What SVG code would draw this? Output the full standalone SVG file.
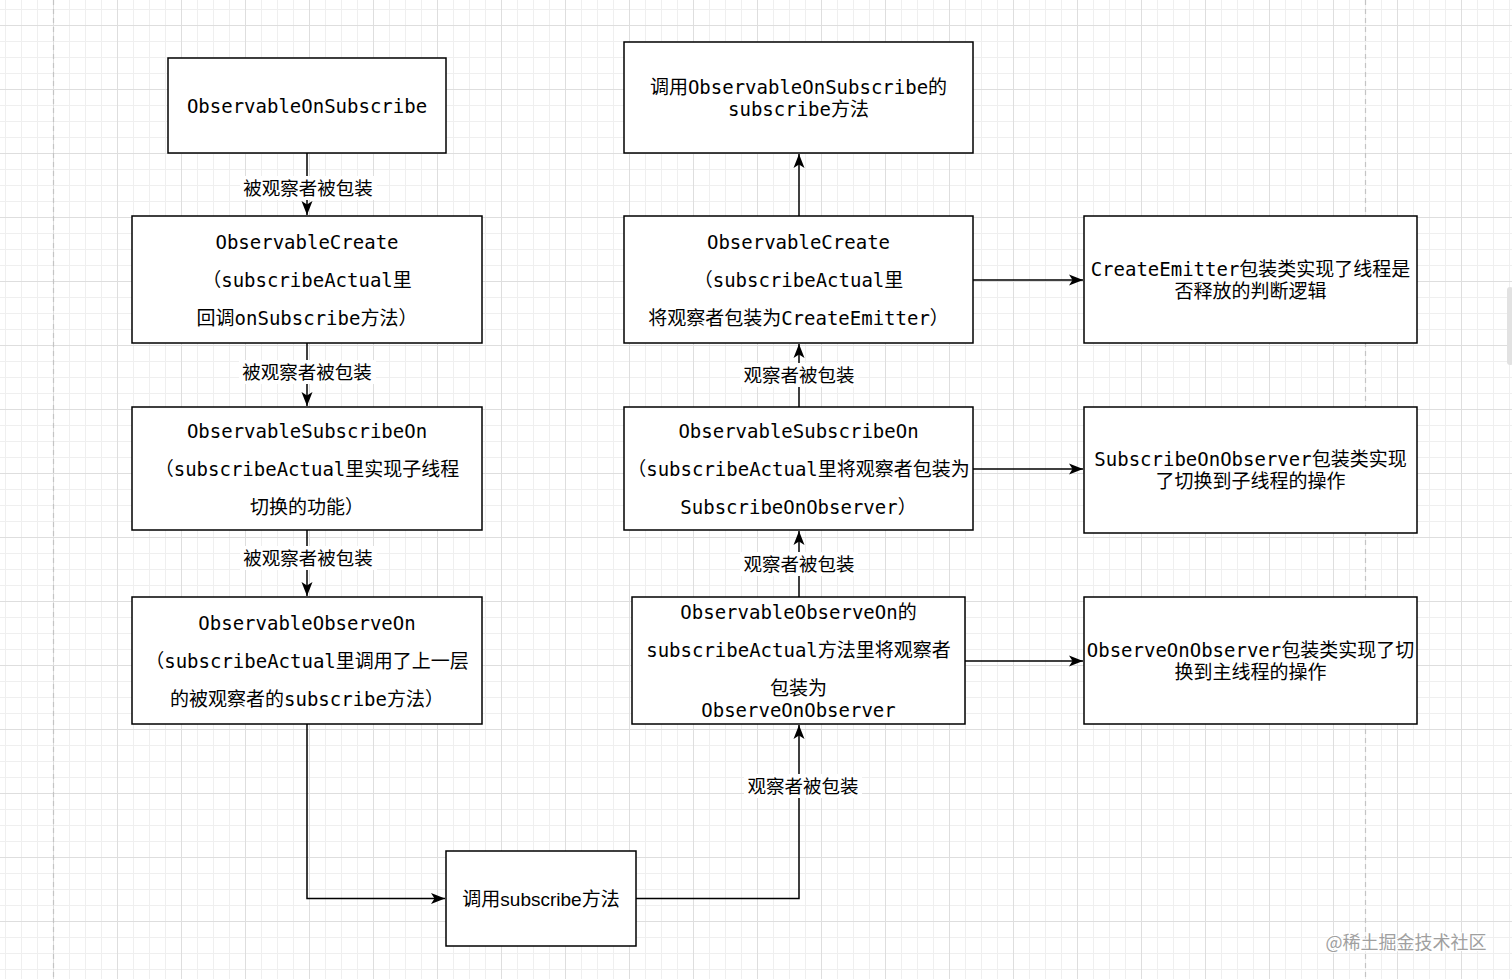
<svg xmlns="http://www.w3.org/2000/svg" width="1512" height="979" viewBox="0 0 1512 979">
<defs>
<pattern id="grid" patternUnits="userSpaceOnUse" x="53" y="25" width="64" height="64">
<rect width="64" height="64" fill="#ffffff"/>
<path d="M16.5 0V64M32.5 0V64M48.5 0V64M0 16.5H64M0 32.5H64M0 48.5H64" stroke="#efefef" stroke-width="1"/>
<path d="M0.5 0V64M0 0.5H64" stroke="#dedede" stroke-width="1"/>
</pattern>
<marker id="arr" markerUnits="userSpaceOnUse" markerWidth="16" markerHeight="16" viewBox="0 0 16 16" refX="15" refY="8" orient="auto">
<path d="M1,2.5 L15,8 L1,13.5 L4.5,8 z" fill="#000"/>
</marker>
</defs>
<style>
.box{fill:#fff;stroke:#000;stroke-width:1.5}
.mono{font-family:"DejaVu Sans Mono","Noto Sans CJK SC",monospace;font-size:19px;fill:#000;text-anchor:middle}
.sans{font-family:"Liberation Sans","Noto Sans CJK SC",sans-serif;font-size:19px;fill:#000;text-anchor:middle}
.lbl{font-family:"Noto Sans CJK SC",sans-serif;font-size:18.5px;fill:#000;text-anchor:middle}
.edge{fill:none;stroke:#000;stroke-width:1.5}
.lblbg{fill:#fff}
</style>
<rect width="1512" height="979" fill="url(#grid)"/>
<line x1="53.5" y1="0" x2="53.5" y2="979" stroke="#c4c4c4" stroke-width="1.2" stroke-dasharray="5,4"/>
<line x1="1365.5" y1="0" x2="1365.5" y2="979" stroke="#c4c4c4" stroke-width="1.2" stroke-dasharray="5,4"/>
<rect x="1507" y="287" width="6" height="78" rx="3" fill="#e2e2e2"/>

<g id="connectors">
<path class="edge" d="M307 153V215" marker-end="url(#arr)"/>
<path class="edge" d="M307 343V406" marker-end="url(#arr)"/>
<path class="edge" d="M307 530V596" marker-end="url(#arr)"/>
<path class="edge" d="M307 724V898.5H445" marker-end="url(#arr)"/>
<path class="edge" d="M636 898.5H799V725" marker-end="url(#arr)"/>
<path class="edge" d="M799 597V531" marker-end="url(#arr)"/>
<path class="edge" d="M799 407V344" marker-end="url(#arr)"/>
<path class="edge" d="M799 216V154" marker-end="url(#arr)"/>
<path class="edge" d="M973 280H1083" marker-end="url(#arr)"/>
<path class="edge" d="M973 469H1083" marker-end="url(#arr)"/>
<path class="edge" d="M965 661H1083" marker-end="url(#arr)"/>
<rect class="lblbg" x="240" y="176" width="137" height="24"/>
<text class="lbl" x="308" y="194.5">被观察者被包装</text>
<rect class="lblbg" x="239" y="360" width="137" height="24"/>
<text class="lbl" x="307" y="378.5">被观察者被包装</text>
<rect class="lblbg" x="240" y="546" width="137" height="24"/>
<text class="lbl" x="308" y="564.5">被观察者被包装</text>
<rect class="lblbg" x="740" y="363" width="118" height="24"/>
<text class="lbl" x="799" y="381.5">观察者被包装</text>
<rect class="lblbg" x="740" y="552" width="118" height="24"/>
<text class="lbl" x="799" y="570.5">观察者被包装</text>
<rect class="lblbg" x="744" y="774" width="118" height="24"/>
<text class="lbl" x="803" y="792.5">观察者被包装</text>
</g>

<g id="n-observableonsubscribe">
<rect class="box" x="168" y="58" width="278" height="95"/>
<text class="mono" x="307" y="112.5">ObservableOnSubscribe</text>
</g>
<g id="n-observablecreate-left">
<rect class="box" x="132" y="216" width="350" height="127"/>
<text class="mono" x="307" y="248.5">ObservableCreate</text>
<text class="mono" x="307" y="286.5">（subscribeActual里</text>
<text class="mono" x="307" y="324.5">回调onSubscribe方法）</text>
</g>
<g id="n-observablesubscribeon-left">
<rect class="box" x="132" y="407" width="350" height="123"/>
<text class="mono" x="307" y="437.5">ObservableSubscribeOn</text>
<text class="mono" x="307" y="475.5">（subscribeActual里实现子线程</text>
<text class="mono" x="307" y="513.5">切换的功能）</text>
</g>
<g id="n-observableobserveon-left">
<rect class="box" x="132" y="597" width="350" height="127"/>
<text class="mono" x="307" y="629.5">ObservableObserveOn</text>
<text class="mono" x="307" y="667.5">（subscribeActual里调用了上一层</text>
<text class="mono" x="307" y="705.5">的被观察者的subscribe方法）</text>
</g>
<g id="n-call-subscribe">
<rect class="box" x="446" y="851" width="190" height="95"/>
<text class="sans" x="541" y="905.5">调用subscribe方法</text>
</g>
<g id="n-call-onsubscribe">
<rect class="box" x="624" y="42" width="349" height="111"/>
<text class="mono" x="798.5" y="93.5">调用ObservableOnSubscribe的</text>
<text class="mono" x="798.5" y="115.5">subscribe方法</text>
</g>
<g id="n-observablecreate-right">
<rect class="box" x="624" y="216" width="349" height="127"/>
<text class="mono" x="798.5" y="248.5">ObservableCreate</text>
<text class="mono" x="798.5" y="286.5">（subscribeActual里</text>
<text class="mono" x="798.5" y="324.5">将观察者包装为CreateEmitter）</text>
</g>
<g id="n-observablesubscribeon-right">
<rect class="box" x="624" y="407" width="349" height="123"/>
<text class="mono" x="798.5" y="437.5">ObservableSubscribeOn</text>
<text class="mono" x="798.5" y="475.5">（subscribeActual里将观察者包装为</text>
<text class="mono" x="798.5" y="513.5">SubscribeOnObserver）</text>
</g>
<g id="n-observableobserveon-right">
<rect class="box" x="632" y="597" width="333" height="127"/>
<text class="mono" x="798.5" y="618.5">ObservableObserveOn的</text>
<text class="mono" x="798.5" y="656.5">subscribeActual方法里将观察者</text>
<text class="mono" x="798.5" y="694.5">包装为</text>
<text class="mono" x="798.5" y="716.5">ObserveOnObserver</text>
</g>
<g id="n-createemitter">
<rect class="box" x="1084" y="216" width="333" height="127"/>
<text class="mono" x="1250.5" y="275.5">CreateEmitter包装类实现了线程是</text>
<text class="mono" x="1250.5" y="297.5">否释放的判断逻辑</text>
</g>
<g id="n-subscribeonobserver">
<rect class="box" x="1084" y="407" width="333" height="126"/>
<text class="mono" x="1250.5" y="465.5">SubscribeOnObserver包装类实现</text>
<text class="mono" x="1250.5" y="487.5">了切换到子线程的操作</text>
</g>
<g id="n-observeonobserver">
<rect class="box" x="1084" y="597" width="333" height="127"/>
<text class="mono" x="1250.5" y="656.5">ObserveOnObserver包装类实现了切</text>
<text class="mono" x="1250.5" y="678.5">换到主线程的操作</text>
</g>

<text x="1406" y="949" font-family="Noto Sans CJK SC,sans-serif" font-size="18" fill="#a0a0a0" text-anchor="middle" stroke="#ffffff" stroke-width="2" paint-order="stroke">@稀土掘金技术社区</text>
</svg>
